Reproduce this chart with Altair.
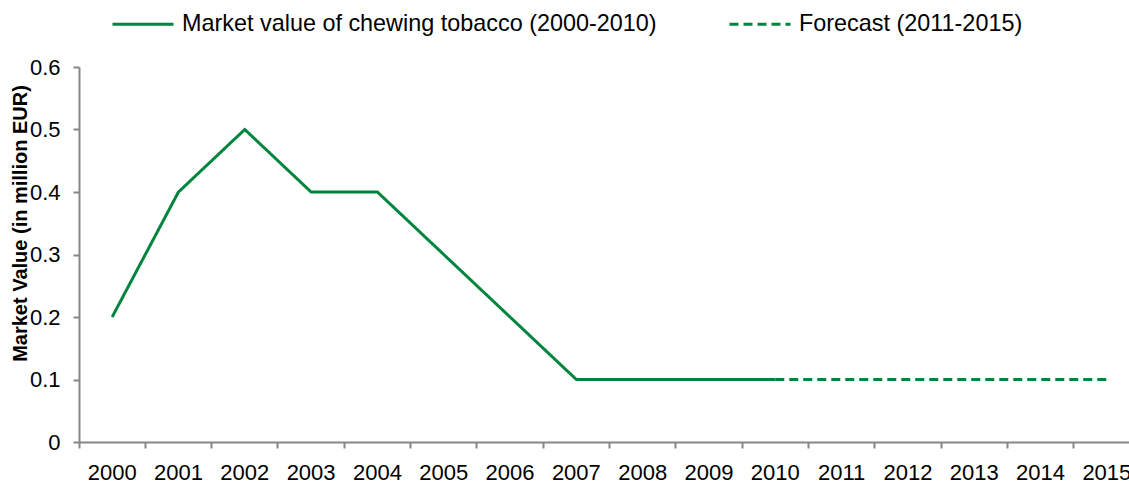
import altair as alt
import pandas as pd

# Market value of chewing tobacco, million EUR
years_actual = ["2000", "2001", "2002", "2003", "2004", "2005", "2006",
                "2007", "2008", "2009", "2010"]
values_actual = [0.2, 0.4, 0.5, 0.4, 0.4, 0.3, 0.2, 0.1, 0.1, 0.1, 0.1]

years_forecast = ["2010", "2011", "2012", "2013", "2014", "2015"]
values_forecast = [0.1, 0.1, 0.1, 0.1, 0.1, 0.1]

all_years = ["2000", "2001", "2002", "2003", "2004", "2005", "2006", "2007",
             "2008", "2009", "2010", "2011", "2012", "2013", "2014", "2015"]
y_ticks = [0, 0.1, 0.2, 0.3, 0.4, 0.5, 0.6]

label_actual = "Market value of chewing tobacco (2000-2010)"
label_forecast = "Forecast (2011-2015)"

df = pd.concat([
    pd.DataFrame({"year": years_actual, "value": values_actual, "series": label_actual}),
    pd.DataFrame({"year": years_forecast, "value": values_forecast, "series": label_forecast}),
])

GREEN = "#00853F"
AXIS_GREY = "#878787"
FONT = "Liberation Sans"

chart = alt.Chart(df).mark_line(color=GREEN, strokeWidth=3).encode(
    x=alt.X(
        "year:O",
        scale=alt.Scale(type="band", domain=all_years, paddingInner=0,
                        paddingOuter=0, range=[0, 1061]),
        axis=alt.Axis(title=None, labelAngle=0, bandPosition=0,
                      tickSize=6, labelPadding=14, labelFontSize=22,
                      labelFont=FONT, labelColor="black",
                      domainColor=AXIS_GREY, tickColor=AXIS_GREY,
                      domainWidth=2, tickWidth=2),
    ),
    y=alt.Y(
        "value:Q",
        scale=alt.Scale(domain=[0, 0.6], nice=False),
        axis=alt.Axis(title="Market Value (in million EUR)", values=y_ticks,
                      format=".1~f", grid=False, tickSize=6, labelPadding=13,
                      labelFontSize=22, labelFont=FONT, labelColor="black",
                      domainColor=AXIS_GREY, tickColor=AXIS_GREY,
                      domainWidth=2, tickWidth=2,
                      titleFont=FONT, titleFontSize=20, titleFontWeight="bold",
                      titleColor="black", titleAngle=-90, titleX=-59, titleY=156,
                      titleAlign="center", titleBaseline="middle"),
    ),
    strokeDash=alt.StrokeDash(
        "series:N",
        scale=alt.Scale(domain=[label_actual, label_forecast],
                        range=[[1, 0], [9, 5]]),
        legend=alt.Legend(title=None, orient="none", direction="horizontal",
                          legendX=32, legendY=-75, padding=0,
                          symbolType="stroke", symbolSize=3721,
                          symbolStrokeWidth=3, symbolStrokeColor=GREEN,
                          labelFont=FONT, labelFontSize=23.4, labelColor="black",
                          labelOffset=7, columnPadding=66, labelLimit=0),
    ),
).properties(
    width=1050,
    height=375,
    autosize=alt.AutoSizeParams(type="none"),
    padding={"left": 79, "top": 67, "right": 0, "bottom": 42},
).configure_view(stroke=None)

chart.save("out.html", embed_options={"renderer": "svg", "actions": False})
